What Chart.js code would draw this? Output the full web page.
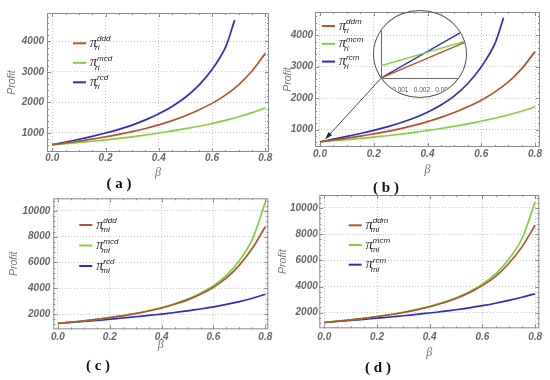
<!DOCTYPE html>
<html>
<head>
<meta charset="utf-8">
<script src="https://cdn.jsdelivr.net/npm/chart.js@4.4.1/dist/chart.umd.min.js"></script>
<style>
  body { margin: 0; background: #fff; }
  #wrap { position: relative; width: 550px; height: 380px; overflow: hidden; }
  .panel { position: absolute; width: 275px; height: 190px; }
  .tag { position: absolute; font: bold 15px "Liberation Serif", serif; color: #111; transform: translate(-50%, -50%); white-space: pre; }
  #lens { position: absolute; left: 373px; top: 10px; width: 94px; height: 88px; border: 1px solid #555; border-radius: 50%; overflow: hidden; box-sizing: border-box; }
  #lens canvas { position: absolute; left: -27px; top: 3px; }
</style>
</head>
<body>
<div id="wrap">
  <div class="panel" style="left:0;top:0"><canvas id="chartA" width="275" height="190"></canvas></div>
  <div class="panel" style="left:275px;top:0"><canvas id="chartB" width="275" height="190"></canvas></div>
  <div class="panel" style="left:0;top:190px"><canvas id="chartC" width="275" height="190"></canvas></div>
  <div class="panel" style="left:275px;top:190px"><canvas id="chartD" width="275" height="190"></canvas></div>
  <div id="lens"><canvas id="chartInset" width="134" height="78"></canvas></div>
  <div class="tag" style="left:119px;top:183px">( a )</div>
  <div class="tag" style="left:386px;top:187px">( b )</div>
  <div class="tag" style="left:98px;top:365px">( c )</div>
  <div class="tag" style="left:378px;top:367px">( d )</div>
</div>
<script>
// beta grid the curves were read at
const beta = [0, 0.05, 0.1, 0.15, 0.2, 0.25, 0.3, 0.35, 0.4, 0.45, 0.5, 0.55, 0.6, 0.65, 0.7, 0.75, 0.8];
const betaRcdA = [0, 0.05, 0.1, 0.15, 0.2, 0.25, 0.3, 0.35, 0.4, 0.45, 0.5, 0.55, 0.6, 0.65, 0.685];
const betaRcmB = [0, 0.05, 0.1, 0.15, 0.2, 0.25, 0.3, 0.35, 0.4, 0.45, 0.5, 0.55, 0.6, 0.65, 0.683];

// (a) retailer profit
const dddA = [615, 672, 733, 800, 872, 952, 1042, 1145, 1265, 1405, 1565, 1755, 1970, 2240, 2580, 3030, 3610];
const mcdA = [615, 650, 687, 727, 771, 819, 872, 932, 998, 1065, 1140, 1220, 1310, 1410, 1530, 1665, 1820];
const rcdA = [615, 700, 792, 890, 997, 1117, 1258, 1428, 1630, 1870, 2170, 2560, 3080, 3800, 4700];

// (b) retailer profit
const ddmB = [612, 668, 728, 793, 864, 943, 1033, 1135, 1253, 1388, 1543, 1727, 1937, 2192, 2510, 2930, 3480];
const mcmB = [612, 645, 680, 718, 759, 804, 854, 909, 970, 1035, 1105, 1180, 1265, 1360, 1465, 1585, 1725];
const rcmB = [612, 694, 782, 875, 976, 1088, 1218, 1370, 1555, 1785, 2075, 2465, 2995, 3720, 4560];

// (c) manufacturer profit
const dddC = [1265, 1365, 1470, 1585, 1715, 1860, 2030, 2230, 2470, 2760, 3100, 3540, 4080, 4800, 5800, 7100, 8780];
const mcdC = [1265, 1367, 1474, 1591, 1724, 1872, 2046, 2252, 2500, 2800, 3155, 3620, 4200, 5000, 6150, 7800, 10680];
const rcdC = [1265, 1343, 1423, 1507, 1596, 1688, 1785, 1888, 1997, 2115, 2245, 2390, 2555, 2745, 2965, 3225, 3530];

// (d) manufacturer profit
const ddmD = [1250, 1350, 1455, 1570, 1700, 1845, 2015, 2215, 2455, 2745, 3090, 3530, 4070, 4780, 5760, 7030, 8680];
const mcmD = [1250, 1352, 1459, 1576, 1709, 1857, 2031, 2237, 2485, 2785, 3140, 3605, 4180, 4960, 6080, 7650, 10460];
const rcmD = [1250, 1328, 1408, 1492, 1580, 1672, 1768, 1870, 1978, 2095, 2225, 2370, 2535, 2722, 2940, 3180, 3450];

// zoomed inset of (b) near beta = 0
const insetBeta = [0.0001, 0.0041];
const insetDdm = [624.25, 628.07];
const insetMcm = [625.53, 628.14];
const insetRcm = [624.25, 629.36];

const betaTicks = [0, 0.2, 0.4, 0.6, 0.8];
const lowTicks = [1000, 2000, 3000, 4000];
const highTicks = [2000, 4000, 6000, 8000, 10000];
const insetXTicks = [0.001, 0.002, 0.003];
const insetYTicks = [626, 627, 628, 629];

// arrow from the lens to the start of the curves (data units of panel b)
const arrowFrom = [0.227, 2632];
const arrowTo = [0.019, 690];

const BROWN = '#b0552e', GREEN = '#82d03e', BLUE = '#2c2cc6';
const tickFont = { family: 'Liberation Sans', size: 10, weight: 'bold', style: 'italic' };

function pts(xs, ys) {
    return xs.map((x, i) => ({ x: x, y: ys[i] }));
}

const framePlugin = {
    id: 'frame',
    beforeDatasetsDraw(chart) {
        const { ctx, chartArea: a, scales } = chart;
        ctx.save();
        ctx.strokeStyle = '#8c8c8c';
        ctx.lineWidth = 1;
        ctx.strokeRect(a.left + 0.5, a.top + 0.5, a.right - a.left - 1, a.bottom - a.top - 1);
        // inward frame ticks
        ctx.beginPath();
        for (let v = 0; v <= 0.8001; v += 0.05) {
            const px = Math.round(scales.x.getPixelForValue(v)) + 0.5;
            const len = Math.abs(v / 0.2 - Math.round(v / 0.2)) < 1e-6 ? 4 : 2;
            ctx.moveTo(px, a.bottom); ctx.lineTo(px, a.bottom - len);
            ctx.moveTo(px, a.top); ctx.lineTo(px, a.top + len);
        }
        const step = chart.options.scales.y.max > 6000 ? 2000 : 1000;
        for (let v = step / 5; v < scales.y.max; v += step / 5) {
            if (v < scales.y.min) continue;
            const py = Math.round(scales.y.getPixelForValue(v)) + 0.5;
            const len = Math.abs(v / step - Math.round(v / step)) < 1e-6 ? 4 : 2;
            ctx.moveTo(a.left, py); ctx.lineTo(a.left + len, py);
            ctx.moveTo(a.right, py); ctx.lineTo(a.right - len, py);
        }
        ctx.stroke();
        ctx.restore();
    }
};

const mathLegend = {
    id: 'mathLegend',
    afterDatasetsDraw(chart, args, o) {
        if (!o.items) return;
        const { ctx, chartArea: a } = chart;
        ctx.save();
        o.items.forEach((it, i) => {
            const x = a.left + o.x, y = a.top + o.y + i * o.dy;
            ctx.strokeStyle = it.color;
            ctx.lineWidth = 2;
            ctx.beginPath(); ctx.moveTo(x, y); ctx.lineTo(x + 13, y); ctx.stroke();
            ctx.fillStyle = '#222';
            ctx.textBaseline = 'alphabetic';
            ctx.textAlign = 'left';
            ctx.font = 'italic 14px "Liberation Serif"';
            ctx.fillText('π', x + 17, y + 3.5);
            const w = ctx.measureText('π').width;
            ctx.font = 'italic 8px "Liberation Sans"';
            ctx.fillText(it.sup, x + 17 + w, y - 2);
            ctx.fillText(o.sub, x + 17 + w - 2, y + 7);
        });
        ctx.restore();
    }
};

const arrowPlugin = {
    id: 'arrow',
    afterDatasetsDraw(chart, args, o) {
        if (!o.from) return;
        const { ctx, scales } = chart;
        const x1 = scales.x.getPixelForValue(o.from[0]), y1 = scales.y.getPixelForValue(o.from[1]);
        const x2 = scales.x.getPixelForValue(o.to[0]), y2 = scales.y.getPixelForValue(o.to[1]);
        const ang = Math.atan2(y2 - y1, x2 - x1);
        ctx.save();
        ctx.strokeStyle = '#333';
        ctx.fillStyle = '#222';
        ctx.lineWidth = 0.9;
        ctx.beginPath(); ctx.moveTo(x1, y1); ctx.lineTo(x2 - 5 * Math.cos(ang), y2 - 5 * Math.sin(ang)); ctx.stroke();
        ctx.beginPath();
        ctx.moveTo(x2, y2);
        ctx.lineTo(x2 - 8 * Math.cos(ang - 0.3), y2 - 8 * Math.sin(ang - 0.3));
        ctx.lineTo(x2 - 8 * Math.cos(ang + 0.3), y2 - 8 * Math.sin(ang + 0.3));
        ctx.closePath(); ctx.fill();
        ctx.restore();
    }
};

function panel(id, p) {
    const datasets = p.series.map(s => ({
        label: s.sup,
        data: pts(s.x, s.y),
        borderColor: s.color,
        borderWidth: 1.7,
        pointRadius: 0,
        fill: false,
        tension: 0.3,
    }));
    return new Chart(document.getElementById(id), {
        type: 'line',
        data: { datasets: datasets },
        options: {
            responsive: false,
            animation: false,
            layout: { padding: { top: p.top, right: p.right, left: 0, bottom: 0 } },
            plugins: {
                legend: { display: false },
                tooltip: { enabled: false },
                mathLegend: { items: p.series, sub: p.sub, x: p.leg[0], y: p.leg[1], dy: p.leg[2] },
                arrow: p.arrow || {},
            },
            scales: {
                x: {
                    type: 'linear',
                    min: p.xMin,
                    max: p.xMax,
                    afterBuildTicks: s => { s.ticks = betaTicks.map(v => ({ value: v })); },
                    afterFit: s => { s.height = p.xH; s.paddingLeft = 0; s.paddingRight = 0; },
                    ticks: { font: tickFont, color: '#666', padding: p.xPad, maxRotation: 0, autoSkip: false, callback: v => v.toFixed(1) },
                    grid: { color: '#c4c4c4', drawTicks: false },
                    border: { display: false, dash: [1, 2] },
                    title: { display: true, text: 'β', color: '#777', font: { family: 'Liberation Serif', size: 12, style: 'italic' }, padding: { top: 0, bottom: p.betaPad } },
                },
                y: {
                    type: 'linear',
                    min: p.yMin,
                    max: p.yMax,
                    afterBuildTicks: s => { s.ticks = p.yTicks.map(v => ({ value: v })); },
                    afterFit: s => { s.width = p.yW; s.paddingTop = 0; s.paddingBottom = 0; },
                    ticks: { font: tickFont, color: '#666', padding: p.yPad, autoSkip: false, callback: v => String(v) },
                    grid: { color: '#c4c4c4', drawTicks: false },
                    border: { display: false, dash: [1, 2] },
                    title: { display: true, text: 'Profit', color: '#777', font: { family: 'Liberation Sans', size: 10.5, style: 'italic' }, padding: { top: p.profitPad, bottom: 0 } },
                },
            },
        },
        plugins: [framePlugin, mathLegend, arrowPlugin],
    });
}

panel('chartA', {
    top: 13, right: 6, yW: 47, xH: 38, xMin: -0.02, xMax: 0.814, yMin: 375, yMax: 4934, yTicks: lowTicks,
    xPad: 0, yPad: 3, betaPad: 9.5, profitPad: 6, leg: [26, 30.3, 19.5], sub: 'ri',
    series: [
        { x: beta, y: dddA, color: BROWN, sup: 'ddd' },
        { x: beta, y: mcdA, color: GREEN, sup: 'mcd' },
        { x: betaRcdA, y: rcdA, color: BLUE, sup: 'rcd' },
    ],
});

panel('chartB', {
    top: 12, right: 10, yW: 40, xH: 43, xMin: -0.0186, xMax: 0.8186, yMin: 446, yMax: 4741, yTicks: lowTicks,
    xPad: 1.2, yPad: 2, betaPad: 12.5, profitPad: 6.5, leg: [7, 14, 17.8], sub: 'ri',
    arrow: { from: arrowFrom, to: arrowTo },
    series: [
        { x: beta, y: ddmB, color: BROWN, sup: 'ddm' },
        { x: beta, y: mcmB, color: GREEN, sup: 'mcm' },
        { x: betaRcmB, y: rcmB, color: BLUE, sup: 'rcm' },
    ],
});

panel('chartC', {
    top: 8.3, right: 6.7, yW: 53.3, xH: 50.7, xMin: -0.018, xMax: 0.8116, yMin: 812, yMax: 10986, yTicks: highTicks,
    xPad: 2.3, yPad: 3, betaPad: 27.5, profitPad: 7.5, leg: [26, 26.7, 20.5], sub: 'mi',
    series: [
        { x: beta, y: dddC, color: BROWN, sup: 'ddd' },
        { x: beta, y: mcdC, color: GREEN, sup: 'mcd' },
        { x: beta, y: rcdC, color: BLUE, sup: 'rcd' },
    ],
});

panel('chartD', {
    top: 5, right: 10.7, yW: 44.3, xH: 51.7, xMin: -0.019, xMax: 0.816, yMin: 808, yMax: 10993, yTicks: highTicks,
    xPad: 3, yPad: 1.5, betaPad: 19.5, profitPad: 1.5, leg: [29.4, 30.3, 19.7], sub: 'mi',
    series: [
        { x: beta, y: ddmD, color: BROWN, sup: 'ddm' },
        { x: beta, y: mcmD, color: GREEN, sup: 'mcm' },
        { x: beta, y: rcmD, color: BLUE, sup: 'rcm' },
    ],
});

// inset lens
const insetFont = { family: 'Liberation Sans', size: 6.5 };
new Chart(document.getElementById('chartInset'), {
    type: 'line',
    data: {
        datasets: [
            { data: pts(insetBeta, insetDdm), borderColor: BROWN, borderWidth: 1.4, pointRadius: 0 },
            { data: pts(insetBeta, insetMcm), borderColor: GREEN, borderWidth: 1.4, pointRadius: 0 },
            { data: pts(insetBeta, insetRcm), borderColor: BLUE, borderWidth: 1.4, pointRadius: 0 },
        ],
    },
    options: {
        responsive: false,
        animation: false,
        layout: { padding: 0 },
        plugins: { legend: { display: false }, tooltip: { enabled: false } },
        scales: {
            x: {
                type: 'linear', min: 0.0001, max: 0.00475,
                afterBuildTicks: s => { s.ticks = insetXTicks.map(v => ({ value: v })); },
                afterFit: s => { s.height = 14; s.paddingLeft = 0; s.paddingRight = 0; },
                ticks: { font: insetFont, color: '#555', padding: 0, maxRotation: 0, autoSkip: false, callback: v => v.toFixed(3) },
                grid: { display: false },
                border: { color: '#666' },
            },
            y: {
                type: 'linear', min: 624.25, max: 630.92,
                afterBuildTicks: s => { s.ticks = insetYTicks.map(v => ({ value: v })); },
                afterFit: s => { s.width = 34; s.paddingTop = 0; s.paddingBottom = 0; },
                ticks: { font: insetFont, color: '#555', padding: 0, autoSkip: false, callback: v => String(v) },
                grid: { display: false },
                border: { color: '#666' },
            },
        },
    },
});
</script>
</body>
</html>
